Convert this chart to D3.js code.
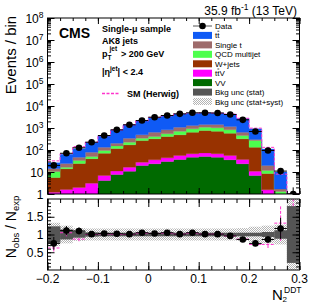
<!DOCTYPE html>
<html><head><meta charset="utf-8">
<script src="https://cdn.jsdelivr.net/npm/d3@7"></script>
<style>body{margin:0;background:#fff} svg{display:block} text{font-family:"Liberation Sans",Arial,sans-serif;fill:#000}</style>
</head><body><svg id="c" width="316" height="303"></svg>
<script>
// ---------- data ----------
const binEdges = [-0.2,-0.175,-0.15,-0.125,-0.1,-0.075,-0.05,-0.025,0,0.025,0.05,0.075,0.1,0.125,0.15,0.175,0.2,0.225,0.25,0.275,0.3];
const dataCounts = [20,71,126,226,455,825,1400,2180,3100,3700,4400,4900,4900,4800,4100,2350,690,95,11,1];
const dataErr    = [4.5,8.4,11,15,21,29,37,47,56,61,66,70,70,69,64,48,26,9.7,3.3,1];
const bkgTT      = [11.6,39.6,68,144,308,606,1046,1590,2367,2692,3270,3370,3400,3300,3100,2087,620,90,8.3,0.2];
const bkgSingleT = [3.9,7.9,14,29,39,52,118,146,233,284,375,385,360,430,342,188,30,8,0.4,0.1];
const bkgQCD     = [4.9,2.5,8.6,10.6,23.5,35,55,76,88,134,225,272,320,305,248,133,136,3.2,0.5,0.1];
const bkgWJets   = [4.4,12.4,22.4,37,65,106,155,240,286,366,434,576,696,648,524,285,123,7,0.5,0.1];
const bkgTTV     = [0.9,1.2,1.5,2.4,2.8,3.4,5.6,8.2,12.3,14,19,20,23.4,20,20,13.4,4.0,1.05,0.2,0];
const bkgVV      = [0.3,0.4,0.5,0.7,4.1,7.7,10.9,19.7,23.6,30,37,47,50.6,47,36,23.6,6.9,0.5,0.1,0];
const herwigTop  = [32,68,143,226,446,817,1400,2100,3010,3560,4360,4710,4850,4750,4270,2760,985,132,8,0.4];
const ratioData    = [0.75,1.11,1.10,1.01,1.03,1.02,1.01,1.05,1.03,1.05,1.01,1.05,1.01,1.01,0.96,0.86,0.75,0.86,1.17,null];
const ratioDataErr = [0.18,0.13,0.10,0.07,0.05,0.04,0.03,0.03,0.02,0.02,0.02,0.02,0.02,0.02,0.02,0.02,0.03,0.09,0.30,null];
const statUnc = [0.23,0.14,0.09,0.06,0.05,0.05,0.05,0.05,0.05,0.05,0.05,0.05,0.05,0.05,0.05,0.05,0.05,0.07,0.12,0.8];
const systUnc = [0.33,0.25,0.18,0.17,0.17,0.17,0.17,0.17,0.17,0.17,0.17,0.17,0.17,0.17,0.17,0.18,0.22,0.25,0.28,1.2];
const herwigRatio    = [0.62,1.05,0.87,1.0,1.02,1.01,1.0,1.04,1.03,1.04,1.01,1.04,1.01,1.01,0.96,0.87,0.72,0.72,1.32,2.4];
const herwigRatioErr = [0.10,0.10,0.06,0.05,0.04,0.03,0.03,0.03,0.03,0.03,0.03,0.03,0.03,0.03,0.03,0.04,0.05,0.10,0.50,0.60];
const yMajorTicks = [1,10,1e2,1e3,1e4,1e5,1e6,1e7,1e8];
const xMajorTicks = [-0.2,-0.1,0,0.1,0.2,0.3];
const ratioMajorTicks = [0.5,1,1.5];
// label: text, bar: index of the character that carries an overline (t-bar)
const processes = [
  {key:"VV",   label:"VV",            bar:null, color:"#006a00", vals:bkgVV},
  {key:"ttV",  label:"ttV",           bar:1,    color:"#ff00ff", vals:bkgTTV},
  {key:"W",    label:"W+jets",        bar:null, color:"#983200", vals:bkgWJets},
  {key:"QCD",  label:"QCD multijet",  bar:null, color:"#4dff4d", vals:bkgQCD},
  {key:"st",   label:"Single t",      bar:null, color:"#9e6b6b", vals:bkgSingleT},
  {key:"tt",   label:"tt",            bar:1,    color:"#0f5af5", vals:bkgTT}
];
const herwigColor = "#ff33cc";

// ---------- layout ----------
const X0=47.5, X1=299.5, T0=18, T1=194, R0=199, R1=270;
const svg = d3.select("#c");
const x = d3.scaleLinear().domain([binEdges[0], binEdges[binEdges.length-1]]).range([X0,X1]);
const y = d3.scaleLog().domain([1,1e8]).range([T1,T0]).clamp(true);
const yr = d3.scaleLinear().domain([0,2]).range([R1,R0]);
const nb = dataCounts.length;
const bins = d3.range(nb).map(i=>({i, lo:binEdges[i], hi:binEdges[i+1], c:(binEdges[i]+binEdges[i+1])/2}));

const defs = svg.append("defs");
defs.append("clipPath").attr("id","clipTop").append("rect").attr("x",X0).attr("y",T0).attr("width",X1-X0).attr("height",T1-T0);
defs.append("clipPath").attr("id","clipR").append("rect").attr("x",X0).attr("y",R0).attr("width",X1-X0).attr("height",R1-R0);
const pat = defs.append("pattern").attr("id","hatch").attr("width",2).attr("height",2).attr("patternUnits","userSpaceOnUse");
pat.append("rect").attr("width",2).attr("height",2).attr("fill","#fff");
pat.append("rect").attr("x",0).attr("y",0).attr("width",1).attr("height",1).attr("fill","#b4b4b4");
pat.append("rect").attr("x",1).attr("y",1).attr("width",1).attr("height",1).attr("fill","#b4b4b4");

// ---------- top panel: stack ----------
const rows = bins.map(b=>{const r={}; processes.forEach(p=>r[p.key]=p.vals[b.i]); return r;});
const stacked = d3.stack().keys(processes.map(p=>p.key))(rows);
const gTop = svg.append("g").attr("clip-path","url(#clipTop)");
const area = d3.area().x(d=>x(d.x)).y0(d=>y(Math.max(d.v0,1e-3))).y1(d=>y(Math.max(d.v1,1e-3)));
stacked.forEach((layer,li)=>{
  const pts=[];
  layer.forEach((s,i)=>{pts.push({x:bins[i].lo,v0:s[0],v1:s[1]});pts.push({x:bins[i].hi,v0:s[0],v1:s[1]});});
  gTop.append("path").attr("d",area(pts)).attr("fill",processes[li].color).attr("stroke",processes[li].color).attr("stroke-width",0.3);
});
// Herwig step line
const hpts=[]; bins.forEach(b=>{hpts.push([b.lo,herwigTop[b.i]]);hpts.push([b.hi,herwigTop[b.i]]);});
gTop.append("path").attr("d",d3.line().x(d=>x(d[0])).y(d=>y(Math.max(d[1],1e-3)))(hpts))
  .attr("fill","none").attr("stroke",herwigColor).attr("stroke-width",1).attr("stroke-dasharray","3,1.5");
// data
const gD = gTop.append("g");
bins.forEach(b=>{
  const v=dataCounts[b.i], e=dataErr[b.i];
  gD.append("line").attr("x1",x(b.lo)).attr("x2",x(b.hi)).attr("y1",y(v)).attr("y2",y(v)).attr("stroke","#000");
  gD.append("line").attr("x1",x(b.c)).attr("x2",x(b.c)).attr("y1",y(Math.max(v-e,1e-3))).attr("y2",y(v+e)).attr("stroke","#000");
  gD.append("circle").attr("cx",x(b.c)).attr("cy",y(v)).attr("r",3.3).attr("fill","#000");
});

// ---------- ratio panel ----------
const gR = svg.append("g").attr("clip-path","url(#clipR)");
bins.forEach(b=>{
  const s=systUnc[b.i];
  gR.append("rect").attr("x",x(b.lo)).attr("width",x(b.hi)-x(b.lo)).attr("y",yr(1+s)).attr("height",yr(1-s)-yr(1+s)).attr("fill","url(#hatch)");
});
bins.forEach(b=>{
  const s=statUnc[b.i];
  gR.append("rect").attr("x",x(b.lo)).attr("width",x(b.hi)-x(b.lo)+0.3).attr("y",yr(1+s)).attr("height",yr(1-s)-yr(1+s)).attr("fill","#555");
});
bins.forEach(b=>{
  const v=herwigRatio[b.i], e=herwigRatioErr[b.i];
  gR.append("line").attr("x1",x(b.lo)).attr("x2",x(b.hi)).attr("y1",yr(v)).attr("y2",yr(v)).attr("stroke",herwigColor).attr("stroke-dasharray","3,1.5");
  gR.append("line").attr("x1",x(b.c)).attr("x2",x(b.c)).attr("y1",yr(v-e)).attr("y2",yr(v+e)).attr("stroke",herwigColor).attr("stroke-dasharray","3,1.5");
});
bins.forEach(b=>{
  const v=ratioData[b.i]; if(v==null) return; const e=ratioDataErr[b.i];
  gR.append("line").attr("x1",x(b.lo)).attr("x2",x(b.hi)).attr("y1",yr(v)).attr("y2",yr(v)).attr("stroke","#000");
  gR.append("line").attr("x1",x(b.c)).attr("x2",x(b.c)).attr("y1",yr(v-e)).attr("y2",yr(v+e)).attr("stroke","#000");
  gR.append("circle").attr("cx",x(b.c)).attr("cy",yr(v)).attr("r",3.3).attr("fill","#000");
});

// ---------- axes ----------
function clean(g){g.select(".domain").remove(); g.selectAll("line").attr("stroke","#000").attr("stroke-width",1); g.selectAll("text").remove();}
const yMinor=[]; yMajorTicks.slice(0,-1).forEach(d=>{for(let m=2;m<=9;m++) yMinor.push(d*m);});
svg.append("g").attr("transform",`translate(${X0},0)`).call(d3.axisLeft(y).tickValues(yMajorTicks).tickSize(-7)).call(clean);
svg.append("g").attr("transform",`translate(${X0},0)`).call(d3.axisLeft(y).tickValues(yMinor).tickSize(-3.5)).call(clean);
svg.append("g").attr("transform",`translate(${X1},0)`).call(d3.axisRight(y).tickValues(yMajorTicks).tickSize(-7)).call(clean);
svg.append("g").attr("transform",`translate(${X1},0)`).call(d3.axisRight(y).tickValues(yMinor).tickSize(-3.5)).call(clean);
const xMinor = d3.range(-0.2,0.3001,0.025).map(v=>+v.toFixed(3));
[[T1,"B"],[T0,"T"]].forEach(([yy,s])=>{
  const ax = s==="B"?d3.axisBottom:d3.axisTop;
  svg.append("g").attr("transform",`translate(0,${yy})`).call(ax(x).tickValues(xMajorTicks).tickSize(-6)).call(clean);
  svg.append("g").attr("transform",`translate(0,${yy})`).call(ax(x).tickValues(xMinor).tickSize(-3)).call(clean);
});
[[R1,"B"],[R0,"T"]].forEach(([yy,s])=>{
  const ax = s==="B"?d3.axisBottom:d3.axisTop;
  svg.append("g").attr("transform",`translate(0,${yy})`).call(ax(x).tickValues(xMajorTicks).tickSize(-8)).call(clean);
  svg.append("g").attr("transform",`translate(0,${yy})`).call(ax(x).tickValues(xMinor).tickSize(-4)).call(clean);
});
const rMinor = d3.range(0.1,2,0.1).map(v=>+v.toFixed(2));
svg.append("g").attr("transform",`translate(${X0},0)`).call(d3.axisLeft(yr).tickValues(ratioMajorTicks).tickSize(-7)).call(clean);
svg.append("g").attr("transform",`translate(${X0},0)`).call(d3.axisLeft(yr).tickValues(rMinor).tickSize(-3.5)).call(clean);
svg.append("g").attr("transform",`translate(${X1},0)`).call(d3.axisRight(yr).tickValues(ratioMajorTicks).tickSize(-7)).call(clean);
svg.append("g").attr("transform",`translate(${X1},0)`).call(d3.axisRight(yr).tickValues(rMinor).tickSize(-3.5)).call(clean);

// frames
svg.append("rect").attr("x",X0).attr("y",T0).attr("width",X1-X0).attr("height",T1-T0).attr("fill","none").attr("stroke","#000");
svg.append("rect").attr("x",X0).attr("y",R0).attr("width",X1-X0).attr("height",R1-R0).attr("fill","none").attr("stroke","#000");

// tick labels
yMajorTicks.forEach(v=>{
  const t = svg.append("text").attr("x",X0-4).attr("y",y(v)+4.5).attr("text-anchor","end").attr("font-size",12);
  const e = Math.round(Math.log10(v));
  if(e===0) t.text("1"); else if(e===1) t.text("10");
  else { t.append("tspan").text("10"); t.append("tspan").attr("font-size",8.5).attr("dy",-5).text(e); }
});
ratioMajorTicks.forEach(v=>{
  svg.append("text").attr("x",X0-4).attr("y",yr(v)+4.3).attr("text-anchor","end").attr("font-size",12).text(d3.format("")(v));
});
xMajorTicks.forEach(v=>{
  svg.append("text").attr("x",x(v)).attr("y",283).attr("text-anchor","middle").attr("font-size",12)
    .text(v===0?"0":d3.format(".1f")(v));
});

// axis titles
svg.append("text").attr("transform","translate(15.5,55) rotate(-90)").attr("text-anchor","middle").attr("font-size",15).text("Events / bin");
const rt = svg.append("text").attr("transform","translate(15.5,227) rotate(-90)").attr("text-anchor","middle").attr("font-size",14);
rt.append("tspan").text("N");
rt.append("tspan").attr("font-size",9.5).attr("dy",3).text("obs");
rt.append("tspan").attr("dy",-3).text(" / N");
rt.append("tspan").attr("font-size",9.5).attr("dy",3).text("exp");
svg.append("text").attr("x",272).attr("y",299.5).attr("font-size",15).text("N");
svg.append("text").attr("x",282.5).attr("y",301.5).attr("font-size",8).text("2");
svg.append("text").attr("x",284).attr("y",292.5).attr("font-size",8.5).text("DDT");

// header texts
const hd = svg.append("text").attr("x",297).attr("y",14.5).attr("text-anchor","end").attr("font-size",12);
hd.append("tspan").text("35.9 fb");
hd.append("tspan").attr("font-size",8.5).attr("dy",-4.5).text("-1");
hd.append("tspan").attr("dy",4.5).text(" (13 TeV)");
svg.append("text").attr("x",59).attr("y",38).attr("font-size",14).attr("font-weight","bold").text("CMS");
const info = {size:9, weight:"bold"};
svg.append("text").attr("x",102).attr("y",31.5).attr("font-size",info.size).attr("font-weight",info.weight).text("Single-μ sample");
svg.append("text").attr("x",102).attr("y",43.5).attr("font-size",info.size).attr("font-weight",info.weight).text("AK8 jets");
svg.append("text").attr("x",102).attr("y",57).attr("font-size",info.size).attr("font-weight",info.weight).text("p");
svg.append("text").attr("x",109.5).attr("y",51).attr("font-size",6.5).attr("font-weight",info.weight).text("jet");
svg.append("text").attr("x",107.5).attr("y",59.5).attr("font-size",6.5).attr("font-weight",info.weight).text("T");
svg.append("text").attr("x",121).attr("y",57).attr("font-size",info.size).attr("font-weight",info.weight).text("> 200 GeV");
const eta = svg.append("text").attr("x",102).attr("y",75).attr("font-size",info.size).attr("font-weight",info.weight);
eta.append("tspan").text("|η");
eta.append("tspan").attr("font-size",6.5).attr("dy",-4).text("jet");
eta.append("tspan").attr("dy",4).text("| < 2.4");
svg.append("line").attr("x1",102).attr("x2",120).attr("y1",93.5).attr("y2",93.5).attr("stroke",herwigColor).attr("stroke-width",1.5).attr("stroke-dasharray","3,1.5");
svg.append("text").attr("x",127).attr("y",97).attr("font-size",info.size).attr("font-weight",info.weight).text("SM (Herwig)");

// legend
const LX0=193, LX1=212, LT=215;
const legRows = [26,35.4,44.9,54.3,63.8,73.2,82.6,92.1,101.5];
const lg = svg.append("g").attr("font-size",8);
lg.append("line").attr("x1",LX0).attr("x2",LX1).attr("y1",legRows[0]).attr("y2",legRows[0]).attr("stroke","#555");
lg.append("circle").attr("cx",(LX0+LX1)/2).attr("cy",legRows[0]).attr("r",3.3).attr("fill","#000");
lg.append("text").attr("x",LT).attr("y",legRows[0]+3).text("Data");
processes.slice().reverse().forEach((p,i)=>{
  const ry = legRows[i+1];
  lg.append("rect").attr("x",LX0).attr("y",ry-3.5).attr("width",LX1-LX0).attr("height",7).attr("fill",p.color);
  const t = lg.append("text").attr("x",LT).attr("y",ry+3).text(p.label);
  if(p.bar!=null){
    const n=t.node(); const s=n.getStartPositionOfChar(p.bar), e=n.getEndPositionOfChar(p.bar);
    lg.append("line").attr("x1",s.x+0.2).attr("x2",e.x-0.2).attr("y1",ry-4.2).attr("y2",ry-4.2).attr("stroke","#000").attr("stroke-width",0.7);
  }
});
lg.append("rect").attr("x",LX0).attr("y",legRows[7]-3.5).attr("width",LX1-LX0).attr("height",7).attr("fill","#555");
lg.append("text").attr("x",LT).attr("y",legRows[7]+3).text("Bkg unc (stat)");
lg.append("rect").attr("x",LX0).attr("y",legRows[8]-3.5).attr("width",LX1-LX0).attr("height",7).attr("fill","url(#hatch)");
lg.append("text").attr("x",LT).attr("y",legRows[8]+3).text("Bkg unc (stat+syst)");
</script></body></html>
